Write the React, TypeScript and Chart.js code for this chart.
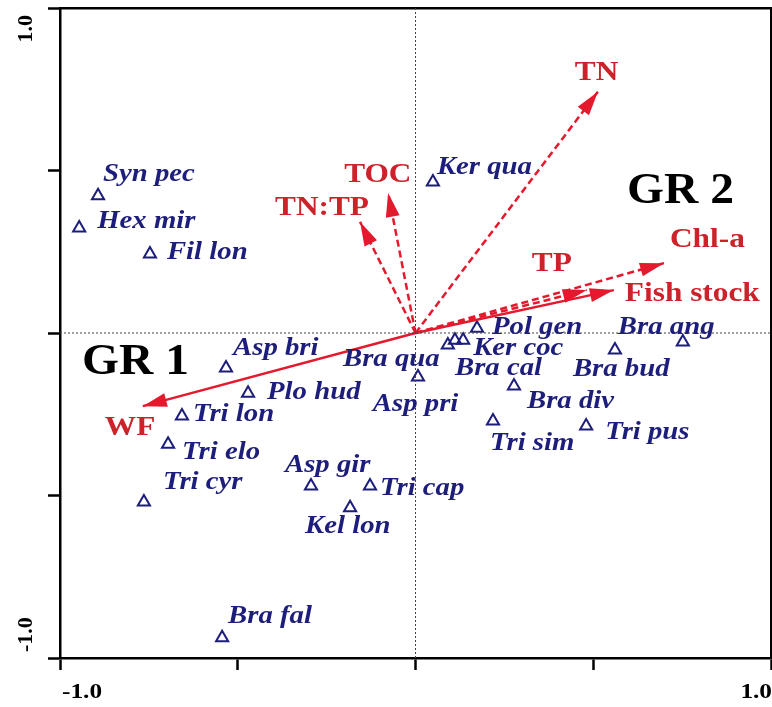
import React, { useEffect, useRef } from "react";
import { Chart, registerables } from "chart.js";

Chart.register(...registerables);

// ---- Species scores (triangles) ----
const speciesNames = [
  "Syn pec", "Hex mir", "Fil lon", "Ker qua", "Pol gen", "Ker coc", "Bra cal", "Asp pri",
  "Bra qua", "Bra ang", "Bra bud", "Bra div", "Tri sim", "Tri pus", "Asp bri", "Plo hud",
  "Tri lon", "Tri elo", "Tri cyr", "Asp gir", "Tri cap", "Kel lon", "Bra fal",
];
const speciesX = [
  -0.893, -0.946, -0.747, 0.049, 0.173, 0.134, 0.111, 0.091,
  0.007, 0.752, 0.561, 0.277, 0.218, 0.48, -0.533, -0.471,
  -0.657, -0.696, -0.764, -0.294, -0.128, -0.184, -0.544,
];
const speciesY = [
  0.422, 0.323, 0.243, 0.465, 0.015, -0.022, -0.022, -0.037,
  -0.135, -0.028, -0.052, -0.163, -0.271, -0.286, -0.108, -0.185,
  -0.255, -0.342, -0.52, -0.471, -0.471, -0.538, -0.938,
];
// label placement relative to the triangle (pixels, left edge / vertical middle)
const speciesLabelDx = [
  5, 18, 17, 4, 15, 10, 0, -75,
  -75, -65, -42, 13, -3, 19, 7, 19,
  11, 14, 19, -26, 10, -45, 6,
];
const speciesLabelDy = [
  -21, -6, -1, -14, -1, 8, 28, 60,
  -17, -15, 20, 16, 22, 7, -20, -1,
  -1, 8, -19, -21, 2, 19, -21,
];

// ---- Environmental variables (arrows) ----
const variableNames = ["TN", "TOC", "TN:TP", "TP", "Chl-a", "Fish stock", "WF"];
const variableX = [0.513, -0.077, -0.156, 0.482, 0.699, 0.558, -0.767];
const variableY = [0.742, 0.431, 0.342, 0.132, 0.215, 0.132, -0.225];
const variableDashed = [true, true, true, true, true, false, false];
const variableLabelDx = [-23, -44, -85, -55, 6, 11, -38];
const variableLabelDy = [-19, -18, -14, -26, -23, 4, 22];

// ---- Group annotations ----
const groupNames = ["GR 1", "GR 2"];
const groupX = [-0.938, 0.595];
const groupY = [-0.092, 0.434];

// ---- Axis ----
const axisMin = -1;
const axisMax = 1;
const axisStep = 0.5;
const axisEndLabels = ["-1.0", "1.0"];

const SERIF = '"Liberation Serif", "Times New Roman", serif';
const NAVY = "#1d1d7c";
const RED_TEXT = "#cc2229";
const RED_LINE = "#e5192d";

function stretchText(
  ctx: CanvasRenderingContext2D,
  text: string,
  x: number,
  y: number,
  font: string,
  color: string,
  align: CanvasTextAlign,
  sx: number
) {
  ctx.save();
  ctx.translate(x, y);
  ctx.scale(sx, 1);
  ctx.font = font;
  ctx.fillStyle = color;
  ctx.textAlign = align;
  ctx.textBaseline = "middle";
  ctx.fillText(text, 0, 0);
  ctx.restore();
}

const labelPlugin = {
  id: "biplotLabels",
  afterDatasetsDraw(chart: any) {
    const ctx: CanvasRenderingContext2D = chart.ctx;
    const xs = chart.scales.x;
    const ys = chart.scales.y;

    // arrowheads + variable labels
    chart.data.datasets.forEach((ds: any, di: number) => {
      if (ds.role !== "arrow") return;
      const meta = chart.getDatasetMeta(di);
      const p0 = meta.data[0];
      const p1 = meta.data[1];
      const ang = Math.atan2(p1.y - p0.y, p1.x - p0.x);
      const len = 24;
      const hw = 7;
      ctx.save();
      ctx.fillStyle = RED_LINE;
      ctx.beginPath();
      ctx.moveTo(p1.x, p1.y);
      ctx.lineTo(
        p1.x - len * Math.cos(ang) + hw * Math.sin(ang),
        p1.y - len * Math.sin(ang) - hw * Math.cos(ang)
      );
      ctx.lineTo(
        p1.x - len * Math.cos(ang) - hw * Math.sin(ang),
        p1.y - len * Math.sin(ang) + hw * Math.cos(ang)
      );
      ctx.closePath();
      ctx.fill();
      ctx.restore();
      const k = ds.varIndex;
      stretchText(
        ctx,
        variableNames[k],
        p1.x + variableLabelDx[k],
        p1.y + variableLabelDy[k],
        `bold 27px ${SERIF}`,
        RED_TEXT,
        "left",
        1.16
      );
    });

    // species labels
    chart.data.datasets.forEach((ds: any, di: number) => {
      if (ds.role !== "species") return;
      const meta = chart.getDatasetMeta(di);
      meta.data.forEach((pt: any, i: number) => {
        stretchText(
          ctx,
          speciesNames[i],
          pt.x + speciesLabelDx[i],
          pt.y + speciesLabelDy[i],
          `italic bold 25px ${SERIF}`,
          NAVY,
          "left",
          1.15
        );
      });
    });

    // group labels
    groupNames.forEach((g, i) => {
      stretchText(
        ctx,
        g,
        xs.getPixelForValue(groupX[i]),
        ys.getPixelForValue(groupY[i]),
        `bold 44px ${SERIF}`,
        "#000",
        "left",
        1.08
      );
    });

    // axis end labels
    const font = `bold 22px ${SERIF}`;
    const xLabelY = xs.bottom + 22;
    stretchText(ctx, axisEndLabels[0], xs.getPixelForValue(axisMin) + 2, xLabelY, font, "#000", "left", 1.15);
    stretchText(ctx, axisEndLabels[1], xs.getPixelForValue(axisMax) + 1, xLabelY, font, "#000", "right", 1.15);

    const yLabelX = 26;
    ctx.save();
    ctx.translate(yLabelX, ys.getPixelForValue(axisMax) + 7);
    ctx.rotate(-Math.PI / 2);
    ctx.font = font;
    ctx.fillStyle = "#000";
    ctx.textAlign = "right";
    ctx.textBaseline = "middle";
    ctx.fillText(axisEndLabels[1], 0, 0);
    ctx.restore();
    ctx.save();
    ctx.translate(yLabelX, ys.getPixelForValue(axisMin) - 6);
    ctx.rotate(-Math.PI / 2);
    ctx.font = font;
    ctx.fillStyle = "#000";
    ctx.textAlign = "left";
    ctx.textBaseline = "middle";
    ctx.fillText(axisEndLabels[0], 0, 0);
    ctx.restore();
  },
};

export default function App() {
  const ref = useRef<HTMLCanvasElement | null>(null);

  useEffect(() => {
    if (!ref.current) return;
    document.body.style.margin = "0";

    const zeroLine = (pts: { x: number; y: number }[]) => ({
      role: "zero",
      data: pts,
      showLine: true,
      borderColor: "#444",
      borderWidth: 1,
      borderDash: [2, 2],
      pointRadius: 0,
      pointHoverRadius: 0,
    });

    const arrows = variableNames.map((name, k) => ({
      role: "arrow",
      varIndex: k,
      label: name,
      data: [
        { x: 0, y: 0 },
        { x: variableX[k], y: variableY[k] },
      ],
      showLine: true,
      borderColor: RED_LINE,
      borderWidth: 2.5,
      borderDash: variableDashed[k] ? [7, 4] : [],
      pointRadius: 0,
      pointHoverRadius: 0,
    }));

    const speciesDs = {
      role: "species",
      label: "Species",
      data: speciesX.map((x, i) => ({ x, y: speciesY[i] })),
      pointStyle: "triangle",
      pointRadius: 7,
      pointBorderWidth: 2,
      pointBorderColor: NAVY,
      pointBackgroundColor: "rgba(0,0,0,0)",
      showLine: false,
    };

    const axisCommon = {
      type: "linear",
      min: axisMin,
      max: axisMax,
      ticks: { display: false, stepSize: axisStep },
    };

    const chart = new Chart(ref.current, {
      type: "scatter",
      data: {
        datasets: [
          zeroLine([{ x: axisMin, y: 0 }, { x: axisMax, y: 0 }]),
          zeroLine([{ x: 0, y: axisMin }, { x: 0, y: axisMax }]),
          ...arrows,
          speciesDs,
        ] as any,
      },
      options: {
        responsive: false,
        animation: false,
        devicePixelRatio: 1,
        layout: { autoPadding: false, padding: { left: 48, right: 1, top: 8, bottom: 37 } },
        plugins: {
          legend: { display: false },
          tooltip: { enabled: false },
          title: { display: false },
        },
        scales: {
          x: {
            ...axisCommon,
            position: "bottom",
            grid: {
              drawOnChartArea: false,
              drawTicks: true,
              tickLength: 12,
              tickWidth: 2.5,
              tickColor: "#000",
            },
            border: { display: true, color: "#000", width: 2.5 },
          },
          y: {
            ...axisCommon,
            position: "left",
            grid: {
              drawOnChartArea: false,
              drawTicks: true,
              tickLength: 12,
              tickWidth: 2.5,
              tickColor: "#000",
            },
            border: { display: true, color: "#000", width: 2.5 },
          },
          x2: {
            ...axisCommon,
            axis: "x",
            position: "top",
            grid: { drawOnChartArea: false, drawTicks: false },
            border: { display: true, color: "#000", width: 2.5 },
          },
          y2: {
            ...axisCommon,
            axis: "y",
            position: "right",
            grid: { drawOnChartArea: false, drawTicks: false },
            border: { display: true, color: "#000", width: 2.5 },
          },
        } as any,
      },
      plugins: [labelPlugin],
    });

    return () => chart.destroy();
  }, []);

  return (
    <div style={{ position: "absolute", left: 0, top: 0, width: 772, height: 707, background: "#fff" }}>
      <canvas ref={ref} width={772} height={707} />
    </div>
  );
}
